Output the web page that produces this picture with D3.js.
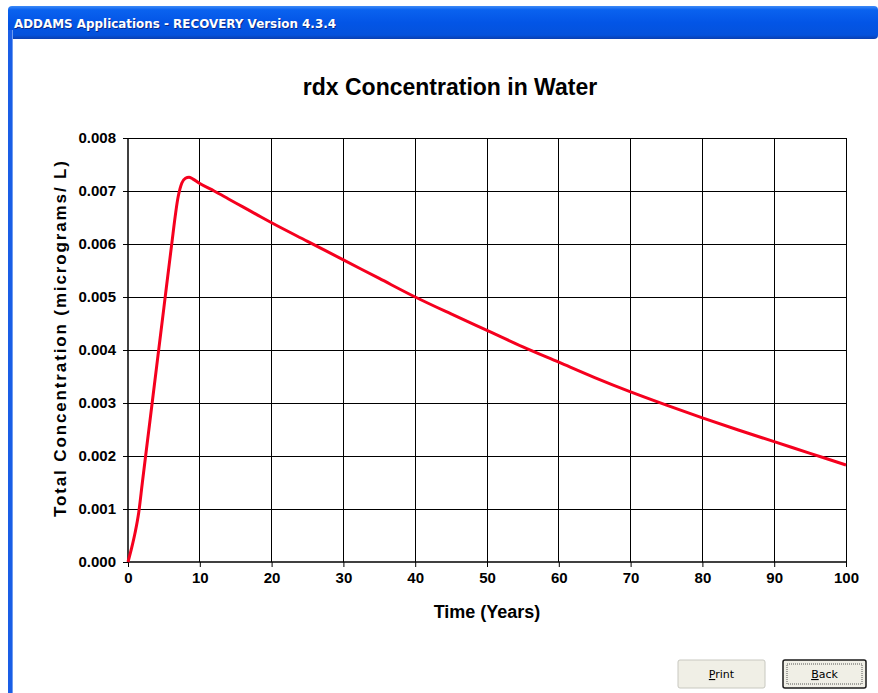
<!DOCTYPE html>
<html>
<head>
<meta charset="utf-8">
<script src="https://d3js.org/d3.v7.min.js"></script>
<style>
  html, body { margin: 0; padding: 0; background: #ffffff; }
  svg { display: block; }
</style>
</head>
<body>
<svg id="chart" width="878" height="693"></svg>
<script>
// RDX concentration in water over time (years, micrograms/L)
const years = [0, 0.5, 1, 1.5, 2, 3, 4, 5, 6, 7, 7.5, 8, 8.5, 9, 10, 12, 14, 16, 18, 20,
  25, 30, 35, 40, 45, 50, 55, 60, 65, 70, 75, 80, 85, 90, 95, 100];
const concentration = [0, 0.00026, 0.00056, 0.00094, 0.0015, 0.0026, 0.0037, 0.0048, 0.0059, 0.0069,
  0.00715, 0.00724, 0.00726, 0.00723, 0.00714, 0.007, 0.00685, 0.0067, 0.00655, 0.0064,
  0.00605, 0.0057, 0.00535, 0.005, 0.00468, 0.00437, 0.00406, 0.00377, 0.00348, 0.00321,
  0.00296, 0.00272, 0.00249, 0.00227, 0.00205, 0.00183];
const xTicks = [0, 10, 20, 30, 40, 50, 60, 70, 80, 90, 100];
const yTicks = [0, 0.001, 0.002, 0.003, 0.004, 0.005, 0.006, 0.007, 0.008];

const svg = d3.select("#chart");
const W = 878, H = 693;

// window chrome: title bar and left frame
const defs = svg.append("defs");
const tg = defs.append("linearGradient").attr("id", "titleGrad")
  .attr("x1", 0).attr("y1", 0).attr("x2", 0).attr("y2", 1);
tg.append("stop").attr("offset", "0%").attr("stop-color", "#3d8af7");
tg.append("stop").attr("offset", "12%").attr("stop-color", "#0a62ef");
tg.append("stop").attr("offset", "50%").attr("stop-color", "#0355e6");
tg.append("stop").attr("offset", "88%").attr("stop-color", "#0452dc");
tg.append("stop").attr("offset", "100%").attr("stop-color", "#0a3fb0");

svg.append("rect").attr("x", 8).attr("y", 6).attr("width", W - 8).attr("height", 33)
  .attr("rx", 4).attr("fill", "url(#titleGrad)");
svg.append("rect").attr("x", 8).attr("y", 30).attr("width", 5).attr("height", H - 30)
  .attr("fill", "#1a5ee6");
svg.append("rect").attr("x", 12).attr("y", 30).attr("width", 1).attr("height", H - 30)
  .attr("fill", "#6f9cf0");

svg.append("text").attr("x", 14).attr("y", 28)
  .attr("font-family", "DejaVu Sans, Verdana, sans-serif").attr("font-weight", "bold")
  .attr("font-size", 13).attr("fill", "#ffffff")
  .attr("textLength", 322).attr("lengthAdjust", "spacingAndGlyphs")
  .style("text-shadow", "1px 1px 0 #0a2a8a")
  .text("ADDAMS Applications - RECOVERY Version 4.3.4");

// plot area
const m = { left: 128, right: 846, top: 138, bottom: 562 };
const x = d3.scaleLinear().domain([0, 100]).range([m.left, m.right]);
const y = d3.scaleLinear().domain([0, 0.008]).range([m.bottom, m.top]);

const font = "Liberation Sans, Arial, Helvetica, sans-serif";

svg.append("text").attr("x", 450).attr("y", 95).attr("text-anchor", "middle")
  .attr("font-family", font).attr("font-weight", "bold").attr("font-size", 23)
  .attr("fill", "#000").text("rdx Concentration in Water");

// gridlines
const grid = svg.append("g").attr("stroke", "#000").attr("stroke-width", 1).attr("shape-rendering", "crispEdges");
grid.selectAll(".gx").data(xTicks.slice(1)).join("line")
  .attr("x1", d => x(d)).attr("x2", d => x(d)).attr("y1", m.top).attr("y2", m.bottom);
grid.selectAll(".gy").data(yTicks.slice(1)).join("line")
  .attr("y1", d => y(d)).attr("y2", d => y(d)).attr("x1", m.left).attr("x2", m.right);

// axes
const xAxis = svg.append("g").attr("transform", `translate(0,${m.bottom})`)
  .call(d3.axisBottom(x).tickValues(xTicks).tickSize(5).tickPadding(5).tickFormat(d3.format("d")));
const yAxis = svg.append("g").attr("transform", `translate(${m.left},0)`)
  .call(d3.axisLeft(y).tickValues(yTicks).tickSize(5).tickPadding(7).tickFormat(d3.format(".3f")));
[xAxis, yAxis].forEach(a => {
  a.select(".domain").attr("stroke", "#000").attr("stroke-width", 1.5);
  a.selectAll(".tick line").attr("stroke", "#000");
  a.selectAll(".tick text").attr("font-family", font).attr("font-weight", "bold")
    .attr("font-size", 15).attr("fill", "#000");
});
xAxis.select(".domain").attr("d", `M${m.left},0H${m.right}`);
yAxis.select(".domain").attr("d", `M0,${m.bottom}V${m.top}`);

// axis titles
svg.append("text").attr("x", 487).attr("y", 618).attr("text-anchor", "middle")
  .attr("font-family", font).attr("font-weight", "bold").attr("font-size", 18)
  .attr("fill", "#000").text("Time (Years)");
svg.append("text").attr("transform", "translate(66,339) rotate(-90)").attr("text-anchor", "middle")
  .attr("font-family", font).attr("font-weight", "bold").attr("font-size", 17)
  .attr("textLength", 356).attr("lengthAdjust", "spacing")
  .attr("fill", "#000").text("Total Concentration (micrograms/ L)");

// concentration curve
const line = d3.line().x((d, i) => x(years[i])).y(d => y(d)).curve(d3.curveMonotoneX);
svg.append("path").datum(concentration).attr("d", line)
  .attr("fill", "none").attr("stroke", "#f5001e").attr("stroke-width", 3)
  .attr("stroke-linejoin", "round");

// buttons
function button(bx, by, bw, bh, label, focused) {
  const g = svg.append("g");
  g.append("rect").attr("x", bx).attr("y", by).attr("width", bw).attr("height", bh)
    .attr("rx", 2).attr("fill", "#f0efe6")
    .attr("stroke", focused ? "#1a1a1a" : "#c8c8c0").attr("stroke-width", focused ? 1.5 : 1);
  if (focused) {
    g.append("rect").attr("x", bx + 4).attr("y", by + 4).attr("width", bw - 8).attr("height", bh - 8)
      .attr("fill", "none").attr("stroke", "#555").attr("stroke-dasharray", "1,1");
  }
  const t = g.append("text").attr("x", bx + bw / 2).attr("y", by + bh / 2 + 4)
    .attr("text-anchor", "middle").attr("font-family", "DejaVu Sans, Tahoma, sans-serif")
    .attr("font-size", 11).attr("fill", "#000");
  t.append("tspan").attr("text-decoration", "underline").text(label[0]);
  t.append("tspan").text(label.slice(1));
}
button(678, 660, 87, 28, "Print", false);
button(783, 660, 83, 28, "Back", true);
</script>
</body>
</html>
